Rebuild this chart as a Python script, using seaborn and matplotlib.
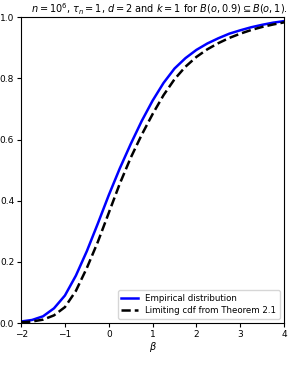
import matplotlib
matplotlib.use("Agg")
import matplotlib.pyplot as plt
import seaborn as sns
import pandas as pd

beta = [-2.00, -1.75, -1.50, -1.25, -1.00, -0.75, -0.50, -0.25, 0.00, 0.25, 0.50, 0.75,
        1.00, 1.25, 1.50, 1.75, 2.00, 2.25, 2.50, 2.75, 3.00, 3.25, 3.50, 3.75, 4.00]
empirical = [0.005, 0.010, 0.022, 0.048, 0.090, 0.155, 0.235, 0.325, 0.418, 0.505, 0.585, 0.660,
             0.727, 0.785, 0.832, 0.866, 0.893, 0.914, 0.931, 0.946, 0.957, 0.967, 0.975, 0.982, 0.987]
limiting = [0.002, 0.005, 0.011, 0.025, 0.052, 0.105, 0.180, 0.265, 0.360, 0.455, 0.540, 0.615,
            0.683, 0.745, 0.797, 0.838, 0.870, 0.895, 0.915, 0.932, 0.946, 0.958, 0.968, 0.976, 0.983]

df = pd.DataFrame({"beta": beta, "emp": empirical, "lim": limiting})

fig = plt.figure(figsize=(2.89, 3.65), dpi=100)
ax = fig.add_axes([0.073, 0.115, 0.910, 0.838])
sns.lineplot(data=df, x="beta", y="emp", ax=ax, color="blue", lw=1.8,
             label="Empirical distribution")
sns.lineplot(data=df, x="beta", y="lim", ax=ax, color="black", lw=1.8, linestyle="--",
             label="Limiting cdf from Theorem 2.1")
ax.set_xlim(-2, 4)
ax.set_ylim(0, 1)
ax.set_xticks([-2, -1, 0, 1, 2, 3, 4])
ax.set_yticks([0, 0.2, 0.4, 0.6, 0.8, 1.0])
ax.tick_params(labelsize=6.5, length=3, pad=2)
ax.set_xlabel(r"$\beta$", fontsize=7, labelpad=1)
ax.set_ylabel("")
ax.set_title(r"$n=10^6$, $\tau_n=1$, $d=2$ and $k=1$ for $B(o,0.9)\subseteq B(o,1)$.",
             fontsize=7.0, pad=3, x=0.036, ha="left")
ax.legend(loc="lower right", fontsize=6.2, handlelength=2, borderpad=0.4, labelspacing=0.4)
fig.savefig("out.png", dpi=100)
